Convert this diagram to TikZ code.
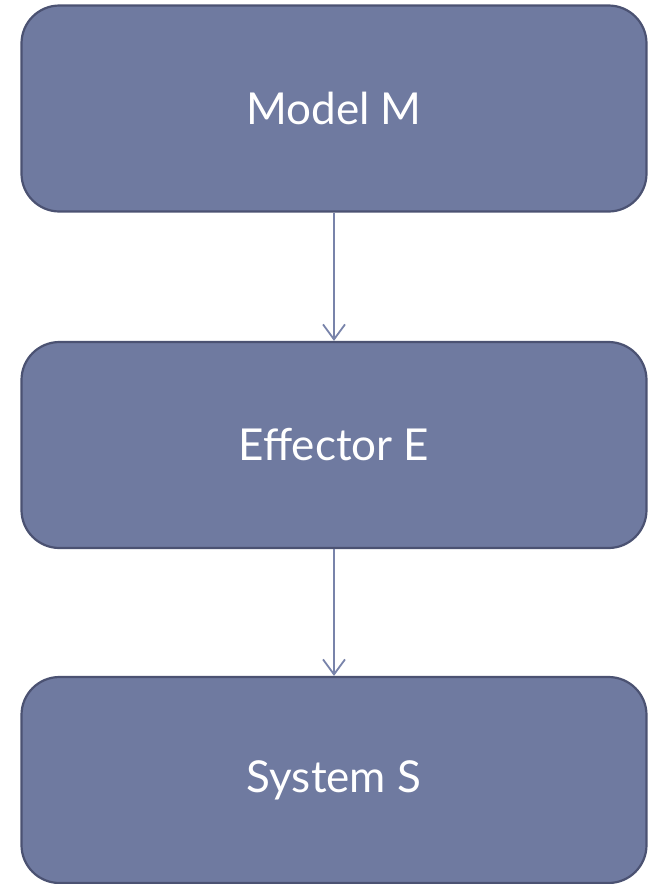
\documentclass[tikz,border=0pt]{standalone}
\usepackage{fontspec}
\setmainfont{Lato}
\usetikzlibrary{arrows.meta}
\definecolor{boxfill}{HTML}{6F7AA0}
\definecolor{boxline}{HTML}{4B5272}
\definecolor{arrowc}{HTML}{7883AA}
\tikzset{
  stepbox/.style={draw=boxline, line width=2.2pt, fill=boxfill, rounded corners=38pt,
    minimum width=625pt, minimum height=206pt, text=white, font=\fontsize{44}{50}\selectfont},
  flow/.style={draw=arrowc, line width=1.8pt, -{Straight Barb[length=15pt,width=22pt,line width=1.8pt]}}
}
\begin{document}
\begin{tikzpicture}[x=1pt,y=-1pt]
\useasboundingbox (0,0) rectangle (650,884);
\node[stepbox] (m) at (334,108.5) {Model M};
\node[stepbox] (e) at (334,445) {Effector E};
\node[stepbox] (s) at (334,780) {System S};
\draw[flow] (m.south) -- (e.north);
\draw[flow] (e.south) -- (s.north);
\end{tikzpicture}
\end{document}
